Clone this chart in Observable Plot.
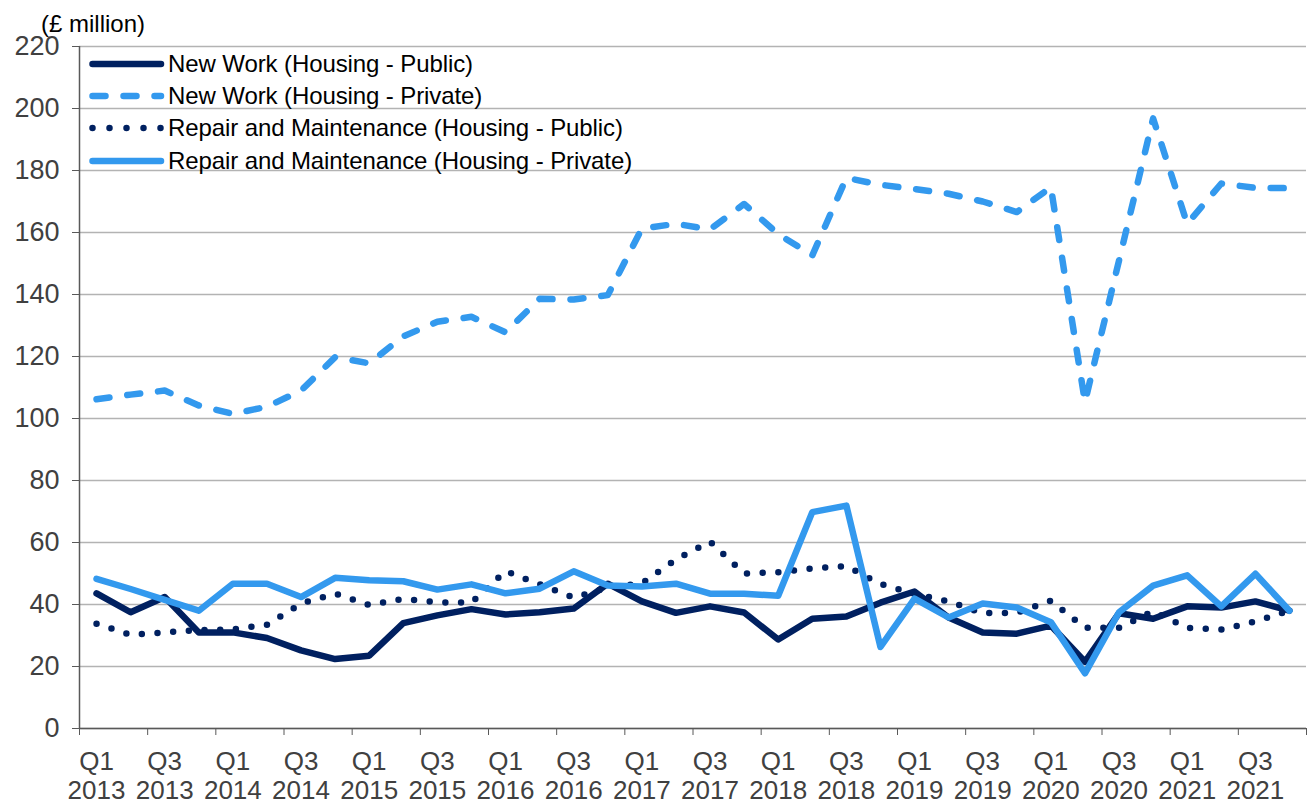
<!DOCTYPE html>
<html><head><meta charset="utf-8">
<script src="https://cdn.jsdelivr.net/npm/d3@7"></script>
<script src="https://cdn.jsdelivr.net/npm/@observablehq/plot@0.6"></script>
<style>
body{margin:0;background:#fff;font-family:"Liberation Sans",Arial,sans-serif;}
#wrap{position:relative;width:1307px;height:803px;}
#unit{position:absolute;left:41px;top:11px;font-size:24px;line-height:25px;color:#000;white-space:nowrap;}
#legend{position:absolute;left:87px;top:48px;}
.row{display:flex;align-items:center;height:32.2px;}
.row svg{width:80px;height:20px;margin-right:1px;display:block;}
.row span{font-size:24px;color:#000;white-space:nowrap;letter-spacing:-0.1px;}
</style></head><body>
<div id="wrap"><div id="chart"></div><div id="unit">(£ million)</div><div id="legend"></div></div>
<script>
const quarters = ["Q1", "Q2", "Q3", "Q4"];
const years = [2013, 2014, 2015, 2016, 2017, 2018, 2019, 2020, 2021];
const yTicks = [0, 20, 40, 60, 80, 100, 120, 140, 160, 180, 200, 220];

const seriesNames = [
  "New Work (Housing - Public)",
  "New Work (Housing - Private)",
  "Repair and Maintenance (Housing - Public)",
  "Repair and Maintenance (Housing - Private)"
];
const newWorkPublic = [43.6, 37.5, 42.4, 31, 31, 29.2, 25.2, 22.4, 23.5, 34, 36.5, 38.5, 36.8, 37.5, 38.7, 46.7, 41, 37.3, 39.4, 37.4, 28.7, 35.4, 36.1, 40.6, 44.2, 35.8, 31, 30.6, 33.2, 21.5, 37.2, 35.4, 39.4, 39, 41, 38];
const newWorkPrivate = [106.2, 107.7, 109, 104.2, 101.5, 103.8, 109, 119.8, 117.8, 126.5, 131.2, 132.8, 127.8, 138.6, 138.4, 139.8, 161.3, 162.8, 161, 169.2, 159.5, 152.6, 177.6, 175.4, 174, 172.5, 170, 166.6, 174.6, 105.3, 151, 196.8, 162.8, 175.8, 174.4, 174.3];
const repairPublic = [33.8, 30.2, 31, 31.7, 32, 33.5, 40.3, 43.5, 39.8, 41.8, 40.7, 40.6, 50.8, 46.5, 42.2, 45.5, 46.8, 54.5, 60.3, 50, 50.4, 51.6, 52.4, 46.6, 43.5, 41, 37.2, 37.3, 41.2, 32.5, 32.5, 37.8, 32.5, 31.9, 34.5, 38];
const repairPrivate = [48.3, 45, 41.5, 38, 46.7, 46.7, 42.4, 48.6, 47.8, 47.5, 44.8, 46.5, 43.6, 45.1, 50.7, 46.1, 45.8, 46.7, 43.5, 43.5, 42.8, 69.8, 71.9, 26.3, 41.9, 35.8, 40.3, 39, 34.3, 17.8, 37.5, 46.1, 49.4, 39.4, 49.9, 38];

const DARK = "#002060", LIGHT = "#3399EE";
const styles = [
  {stroke: DARK, dash: null},
  {stroke: LIGHT, dash: "13 18"},
  {stroke: DARK, dash: "0 15.7"},
  {stroke: LIGHT, dash: null}
];
const allSeries = [newWorkPublic, newWorkPrivate, repairPublic, repairPrivate];

// quarter labels
const labels = [];
years.forEach(y => quarters.forEach(q => labels.push(q + "\n" + y)));
const idx = labels.map((d, i) => i);
const labelIdx = idx.filter(i => i % 2 === 0);
const boundaries = idx.filter(i => i % 2 === 0).map(i => i - 0.5).concat([labels.length - 0.5]);

const marks = [
  Plot.gridY(yTicks, {stroke: "#b3b3b3", strokeOpacity: 1, strokeWidth: 1.5}),
  Plot.axisY(yTicks, {tickSize: 7, tickPadding: 13, fontSize: 27, label: null, stroke: "#595959", fill: "#404040"}),
  Plot.axisX(boundaries, {tickSize: 7, tickFormat: () => "", label: null, stroke: "#595959"}),
  Plot.axisX(labelIdx, {tickSize: 0, tickPadding: 21, fontSize: 26, lineHeight: 1.12, tickFormat: i => labels[i], label: null, fill: "#404040"}),
  Plot.ruleX([-0.5], {stroke: "#595959", strokeWidth: 1.5}),
  Plot.ruleY([0], {stroke: "#595959", strokeWidth: 1.5})
];
allSeries.forEach((vals, s) => {
  const rows = vals.map((v, i) => ({i, v}));
  marks.push(Plot.line(rows, {
    x: "i", y: "v", stroke: styles[s].stroke, strokeWidth: 6.5,
    strokeLinecap: "round", strokeLinejoin: "round",
    strokeDasharray: styles[s].dash
  }));
});

const chart = Plot.plot({
  width: 1307, height: 803,
  marginLeft: 79, marginRight: 1, marginTop: 46, marginBottom: 75,
  style: {fontFamily: "'Liberation Sans', Arial, sans-serif", background: "#fff", color: "#404040", overflow: "visible"},
  x: {type: "linear", domain: [-0.5, labels.length - 0.5]},
  y: {domain: [0, 220]},
  marks
});
document.getElementById("chart").appendChild(chart);

// legend
const leg = document.getElementById("legend");
seriesNames.forEach((name, s) => {
  const row = document.createElement("div");
  row.className = "row";
  const dash = styles[s].dash ? (s === 2 ? "0 17" : "13 18") : "";
  row.innerHTML = `<svg viewBox="0 0 80 20"><line x1="5.5" x2="74" y1="10" y2="10" stroke="${styles[s].stroke}" stroke-width="6.5" stroke-linecap="round" ${dash ? `stroke-dasharray="${dash}"` : ""}/></svg><span>${name}</span>`;
  leg.appendChild(row);
});
</script>
</body></html>
